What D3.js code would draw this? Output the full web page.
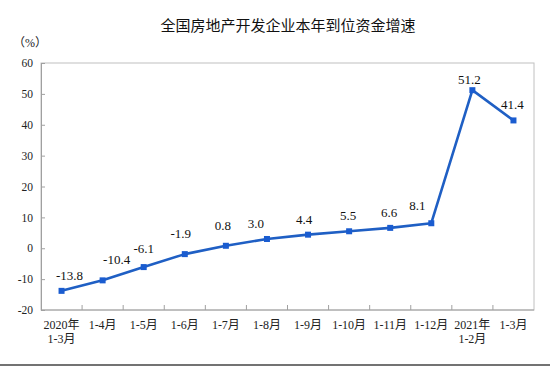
<!DOCTYPE html>
<html><head><meta charset="utf-8">
<script src="https://cdn.jsdelivr.net/npm/d3@7/dist/d3.min.js"></script>
<style>body{margin:0;background:#fff}svg{display:block}</style>
</head><body>
<svg id="c" width="550" height="366"></svg>
<script>
const categories = ["2020年\n1-3月","1-4月","1-5月","1-6月","1-7月","1-8月","1-9月","1-10月","1-11月","1-12月","2021年\n1-2月","1-3月"];
const values = [-13.8,-10.4,-6.1,-1.9,0.8,3.0,4.4,5.5,6.6,8.1,51.2,41.4];
const yTicks = [-20,-10,0,10,20,30,40,50,60];
const title = "全国房地产开发企业本年到位资金增速";
const unit = "（%）";
// label nudges (style only)
const labelDx = [8,14,0,-4,-3,-11,-4,-1,-1,-14,-3,-1];
const labelDy = [-11,-16,-14,-16,-16,-11,-11,-11,-11,-13,-6,-11];

const svg = d3.select("#c");
const L=41,R=534,T=63,B=310;
const x = d3.scaleBand().domain(categories).range([L,R]);
const y = d3.scaleLinear().domain([-20,60]).range([B,T]);
const serif = "'Liberation Serif','Times New Roman','Noto Sans CJK SC',serif";
const color = "#1f5fc4";

svg.append("text").attr("x",288).attr("y",31).attr("text-anchor","middle")
  .style("font-family","'Noto Sans CJK SC',sans-serif").style("font-size","15px").attr("fill","#111").text(title);
svg.append("text").attr("x",13).attr("y",47)
  .style("font-family",serif).style("font-size","12px").attr("fill","#222").text(unit);

// frame
svg.append("rect").attr("x",L).attr("y",T).attr("width",R-L).attr("height",B-T)
  .attr("fill","none").attr("stroke","#c0c0c0").attr("stroke-width",1);

// y axis
const ya = svg.append("g").attr("transform",`translate(${L},0)`)
  .call(d3.axisLeft(y).tickValues(yTicks).tickSize(-4).tickPadding(8).tickFormat(d=>String(d)));
ya.select(".domain").attr("stroke","#a0a0a0");
ya.selectAll(".tick line").attr("stroke","#a0a0a0");
ya.selectAll("text").style("font-family",serif).style("font-size","11.5px").attr("fill","#222");

// x axis
const boundaries = categories.slice(1).map(c=>x(c));
svg.append("g").selectAll("line").data(boundaries).join("line")
  .attr("x1",d=>d).attr("x2",d=>d).attr("y1",B).attr("y2",B-5).attr("stroke","#a0a0a0");
svg.append("line").attr("x1",L).attr("x2",R).attr("y1",B).attr("y2",B).attr("stroke","#a0a0a0");
const xl = svg.append("g").selectAll("text").data(categories).join("text")
  .attr("x",d=>x(d)+x.bandwidth()/2).attr("y",329).attr("text-anchor","middle")
  .style("font-family",serif).style("font-size","12px").attr("fill","#222");
xl.each(function(d){
  const parts=d.split("\n");
  d3.select(this).selectAll("tspan").data(parts).join("tspan")
    .attr("x",x(d)+x.bandwidth()/2).attr("dy",(p,i)=>i?14:0).text(p=>p);
});

const cx = (d,i)=>x(categories[i])+x.bandwidth()/2;
svg.append("path").datum(values)
  .attr("d",d3.line().x(cx).y(d=>y(d)))
  .attr("fill","none").attr("stroke",color).attr("stroke-width",2.6).attr("stroke-linejoin","round");
svg.append("g").selectAll("rect").data(values).join("rect")
  .attr("x",(d,i)=>cx(d,i)-3).attr("y",d=>y(d)-3).attr("width",6).attr("height",6).attr("fill","#1a5cd0");
svg.append("g").selectAll("text").data(values).join("text")
  .attr("x",(d,i)=>cx(d,i)+labelDx[i]).attr("y",(d,i)=>y(d)+labelDy[i]).attr("text-anchor","middle")
  .style("font-family",serif).style("font-size","13px").attr("fill","#111")
  .text(d=>d.toFixed(1));

svg.append("line").attr("x1",0).attr("x2",550).attr("y1",365).attr("y2",365).attr("stroke","#444").attr("stroke-width",1.5);
</script>
</body></html>
